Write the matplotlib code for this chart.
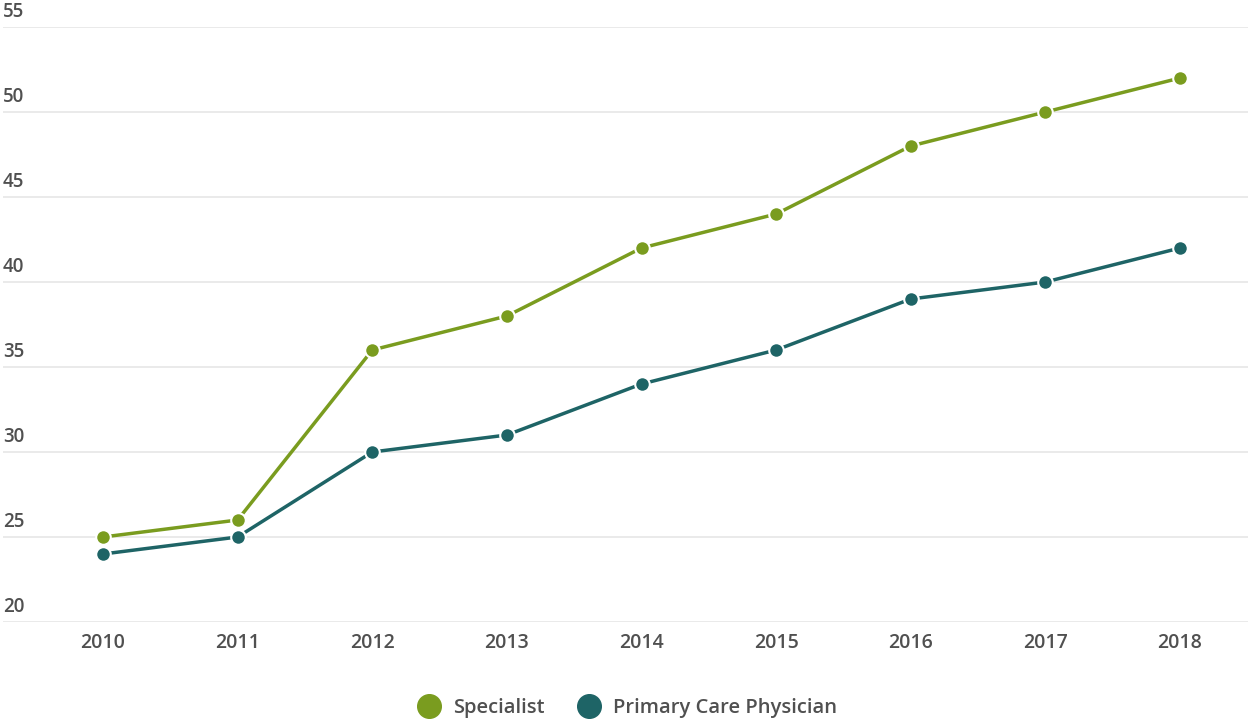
import matplotlib.pyplot as plt
from matplotlib.lines import Line2D

plt.rcParams['font.family'] = ['Open Sans', 'DejaVu Sans']
plt.rcParams['font.weight'] = 'semibold'

# Data
years = [2010, 2011, 2012, 2013, 2014, 2015, 2016, 2017, 2018]
specialist = [25, 26, 36, 38, 42, 44, 48, 50, 52]
primary_care = [24, 25, 30, 31, 34, 36, 39, 40, 42]
y_ticks = [20, 25, 30, 35, 40, 45, 50, 55]
series_names = ['Specialist', 'Primary Care Physician']

green = '#7a9c1f'
teal = '#1e6466'
text_col = '#505050'

fig = plt.figure(figsize=(12.54, 7.21), dpi=100)
ax = fig.add_axes([3 / 1254, 99 / 721, 1245 / 1254, 595 / 721])

for vals, col in [(specialist, green), (primary_care, teal)]:
    ax.plot(years, vals, color=col, linewidth=2.5, marker='o', markersize=10.5,
            markerfacecolor=col, markeredgecolor='white', markeredgewidth=1.5,
            zorder=3)

ax.set_xlim(2009.257, 2018.505)
ax.set_ylim(20, 55)
ax.set_yticks(y_ticks)
ax.set_yticklabels([])
ax.grid(axis='y', color='#e6e6e6', linewidth=1.2)
ax.set_axisbelow(True)
ax.tick_params(axis='both', length=0)
for s in ax.spines.values():
    s.set_visible(False)

# y labels sit just above each grid line
for t in y_ticks:
    ax.text(0.0, t + 0.3, str(t), transform=ax.get_yaxis_transform(),
            ha='left', va='bottom', fontsize=13.5, color=text_col)

ax.set_xticks(years)
ax.set_xticklabels([str(y) for y in years], fontsize=14, color=text_col)
ax.tick_params(axis='x', pad=8)

handles = [Line2D([], [], linestyle='none', marker='o', markersize=17,
                  markerfacecolor=c, markeredgecolor=c) for c in (green, teal)]
fig.legend(handles, series_names, loc='center', bbox_to_anchor=(0.5, 13 / 721),
           ncol=2, frameon=False, fontsize=14.5, labelcolor=text_col,
           handletextpad=0.6, columnspacing=1.6, handlelength=1.2)

fig.savefig('out.png', dpi=100, facecolor='white')
